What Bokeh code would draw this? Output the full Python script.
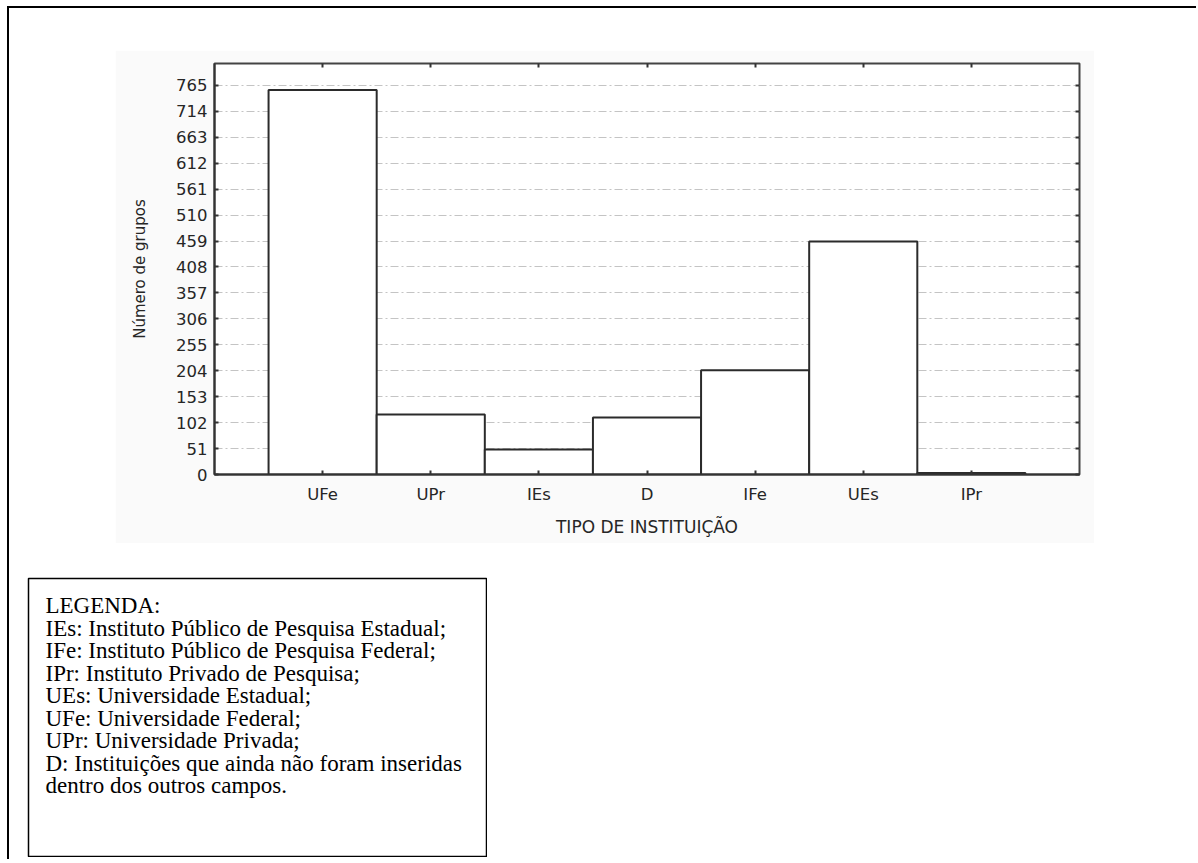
from bokeh.plotting import figure
from bokeh.models import (FactorRange, Range1d, FixedTicker, LinearAxis,
                          CategoricalAxis, ColumnDataSource, Spacer,
                          CustomLabelingPolicy)
from bokeh.layouts import column, row
from bokeh.core.properties import value
from bokeh.embed import file_html
from bokeh.resources import INLINE

# ---------------- data ----------------
categories = ["UFe", "UPr", "IEs", "D", "IFe", "UEs", "IPr"]
groups = [756, 118, 49, 112, 205, 458, 3]
y_ticks = [0, 51, 102, 153, 204, 255, 306, 357, 408, 459, 510, 561, 612, 663, 714, 765]
y_label = "Número de grupos"
x_label = "TIPO DE INSTITUIÇÃO"
legend_lines = [
    "LEGENDA:",
    "IEs: Instituto Público de Pesquisa Estadual;",
    "IFe: Instituto Público de Pesquisa Federal;",
    "IPr: Instituto Privado de Pesquisa;",
    "UEs: Universidade Estadual;",
    "UFe: Universidade Federal;",
    "UPr: Universidade Privada;",
    "D: Instituições que ainda não foram inseridas",
    "dentro dos outros campos.",
]

TXT = "#262626"
AX = "#333333"

# ---------------- chart (gray panel = figure canvas) ----------------
src = ColumnDataSource(dict(cat=categories, n=groups))

p = figure(width=979, height=493,
           x_range=FactorRange(factors=categories, range_padding=0.5,
                               range_padding_units="absolute"),
           y_range=Range1d(0, 808),
           output_backend="svg", toolbar_location=None,
           min_border_left=99, min_border_right=15,
           min_border_top=13, min_border_bottom=69,
           border_fill_color="#fafafa", background_fill_color="white",
           outline_line_color="#444444", outline_line_width=2,
           margin=(42, 0, 0, 106))

p.vbar(x="cat", top="n", width=1.0, source=src,
       fill_color="white", line_color="#2b2b2b", line_width=2)

ticker = FixedTicker(ticks=y_ticks)
p.yaxis.ticker = ticker
p.ygrid.ticker = ticker
p.ygrid.grid_line_color = "#c4c4c4"
p.ygrid.grid_line_dash = "8 3 2 3"
p.ygrid.grid_line_width = 1
p.xgrid.grid_line_color = None

for ax in (p.xaxis[0], p.yaxis[0]):
    ax.axis_line_color = AX
    ax.axis_line_width = 2
    ax.major_tick_in = 4
    ax.major_tick_out = 0
    ax.major_tick_line_color = AX
    ax.major_tick_line_width = 2
    ax.minor_tick_line_color = None
    ax.major_label_text_font = "DejaVu Sans"
    ax.major_label_text_font_size = "16.5px"
    ax.major_label_text_color = TXT
    ax.axis_label_text_font = "DejaVu Sans"
    ax.axis_label_text_font_style = "normal"
    ax.axis_label_text_color = TXT

p.xaxis.axis_label = x_label
p.xaxis.axis_label_text_font_size = "17px"
p.xaxis.major_label_standoff = 10
p.xaxis.axis_label_standoff = 10

p.yaxis.axis_label = y_label
p.yaxis.axis_label_text_font_size = "15px"
p.yaxis.major_label_standoff = 7
p.yaxis.axis_label_standoff = 24

# mirrored inner ticks on the top and right sides (no labels)
no_labels = CustomLabelingPolicy(code="return new Set()")
top_ax = CategoricalAxis(major_tick_in=4, major_tick_out=0,
                         major_tick_line_color=AX, major_tick_line_width=2,
                         major_label_policy=no_labels,
                         major_label_text_font_size="1px",
                         major_label_standoff=0, axis_line_color=None)
p.add_layout(top_ax, "above")
right_ax = LinearAxis(ticker=ticker, major_tick_in=4, major_tick_out=0,
                      major_tick_line_color=AX, major_tick_line_width=2,
                      minor_tick_line_color=None,
                      major_label_policy=no_labels,
                      major_label_text_font_size="1px",
                      major_label_standoff=0, axis_line_color=None)
p.add_layout(right_ax, "right")

# ---------------- legend box ----------------
box_w, box_h = 458, 278
pad_x, first_base, step = 17, 27, 22.5
lg = figure(width=460, height=280,
            x_range=Range1d(0, box_w), y_range=Range1d(box_h, 0),
            output_backend="svg", toolbar_location=None,
            min_border=1, x_axis_location=None, y_axis_location=None,
            outline_line_color="black", outline_line_width=1.5,
            border_fill_color="white", background_fill_color="white")
lg.xgrid.grid_line_color = None
lg.ygrid.grid_line_color = None
lsrc = ColumnDataSource(dict(
    x=[pad_x] * len(legend_lines),
    y=[first_base + i * step for i in range(len(legend_lines))],
    t=legend_lines))
lg.text(x="x", y="y", text="t", source=lsrc,
        text_font=value("Liberation Serif"), text_font_size="23px",
        text_color="black", text_baseline="alphabetic", text_align="left")

legend_row = row(Spacer(width=18, height=280), lg, margin=(34, 0, 0, 0))

layout = column(p, legend_row, width=1189, height=853,
                margin=(6, 0, 0, 7),
                styles={"border-left": "2px solid black",
                        "border-top": "2px solid black"})

open("out.html", "w").write(file_html(layout, INLINE))
